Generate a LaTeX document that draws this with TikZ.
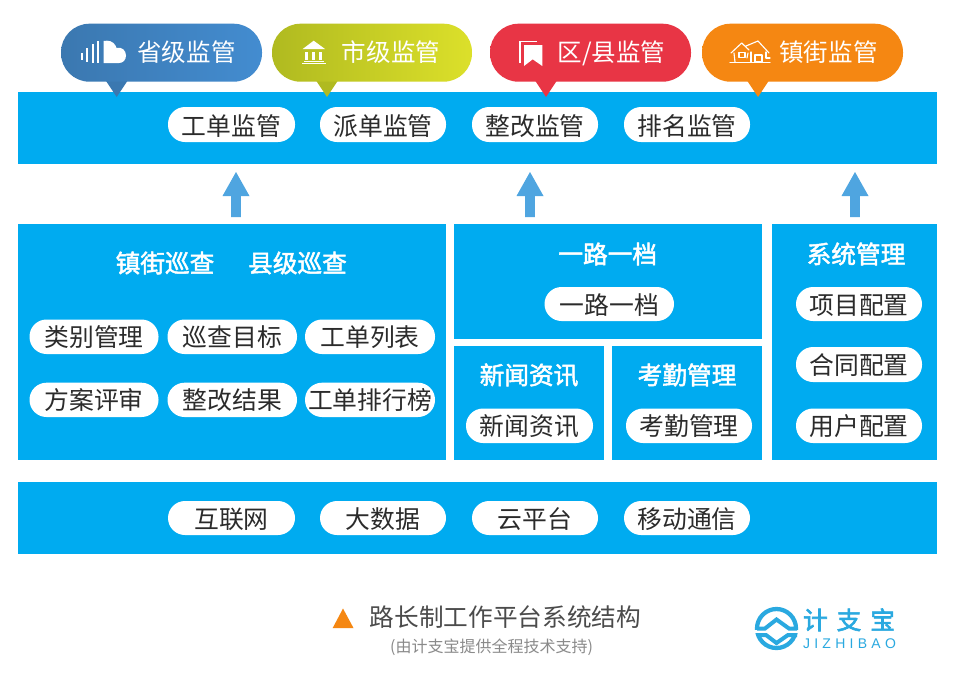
\documentclass[tikz,border=0pt]{standalone}
\usepackage{fontspec}
\setmainfont{Noto Sans CJK SC}
\newfontfamily\boldcjk[FakeBold=2]{Noto Sans CJK SC}
\newfontfamily\logocjk[FakeBold=2.5]{Noto Sans CJK SC}
\newfontfamily\logolat{Liberation Sans}
\usetikzlibrary{calc}
\definecolor{band}{HTML}{00ABF0}
\definecolor{arrowblue}{HTML}{4FA5E0}
\definecolor{ink}{HTML}{2B2B2B}
\definecolor{logoblue}{HTML}{2AA9E0}
\definecolor{capgray}{HTML}{8A8A8A}
\definecolor{bluea}{HTML}{3B78B0}
\definecolor{blueb}{HTML}{438CD0}
\definecolor{greena}{HTML}{B0BA20}
\definecolor{greenb}{HTML}{DCE02A}
\definecolor{redc}{HTML}{E83545}
\definecolor{orangec}{HTML}{F58712}
\newcommand{\fs}[1]{\fontsize{#1}{#1}\selectfont}
\newcommand{\pilltext}{15.2pt}
\newcommand{\panel}[5]{\node[panelbox,minimum width=#4*0.75pt-#2*0.75pt,minimum height=#5*0.75pt-#3*0.75pt] (#1) at ({(#2+#4)/2},{(#3+#5)/2}) {};}
\newcommand{\wpill}[6]{\node[whitepill,minimum width=#4*0.75pt-#2*0.75pt,minimum height=#5*0.75pt-#3*0.75pt] (#1) at ({(#2+#4)/2},{(#3+#5)/2}) {#6};}
\newcommand{\blockarrow}[1]{\fill[arrowblue] (#1,172) -- (#1+13.5,196) -- (#1+4.8,196) -- (#1+4.8,217) -- (#1-4.8,217) -- (#1-4.8,196) -- (#1-13.5,196) -- cycle;}
% name, x1, x2, apex x, left color, right color
\newcommand{\bubble}[6]{
  \fill[#5] (#4-11.3,80) -- (#4,97) -- (#4+11.3,80) -- cycle;
  \node[bubblepill,minimum width=#3*0.75pt-#2*0.75pt,left color=#5,right color=#6] (#1) at ({(#2+#3)/2},52.7) {};
}
\tikzset{
  x=0.75pt,y=-0.75pt,
  panelbox/.style={fill=band,draw=none,rectangle,inner sep=0pt},
  whitepill/.style={fill=white,draw=none,rounded corners=17*0.75pt,inner sep=0pt,font=\fs{18.6pt},text=ink,text height=\pilltext,text depth=0pt},
  bubblepill/.style={draw=none,rounded corners=28.5*0.75pt,minimum height=58*0.75pt,inner sep=0pt},
  bubbletext/.style={text=white,font=\fs{18.4pt},inner sep=0pt,text height=14pt,text depth=0pt},
  titletext/.style={text=white,font=\boldcjk\fs{18.5pt},inner sep=0pt,text height=14pt,text depth=0pt},
}
\begin{document}
\begin{tikzpicture}
\useasboundingbox (0,0) rectangle (953,672);
\fill[white] (0,0) rectangle (953,672);
% bands
\panel{top}{18}{92}{937}{164}
\panel{bottom}{18}{482}{937}{554}
\panel{left}{18}{224}{446}{460}
\panel{road}{454}{224}{762}{339}
\panel{news}{454}{346}{604}{460}
\panel{attend}{612}{346}{762}{460}
\panel{sys}{772}{224}{937}{460}
% bubbles
\bubble{b1}{61}{262}{116.7}{bluea}{blueb}
\bubble{b2}{272}{472}{327}{greena}{greenb}
\bubble{b3}{490}{691}{546}{redc}{redc}
\bubble{b4}{702}{903}{758}{orangec}{orangec}
\node[bubbletext] (t1) at (186.5,52.5) {省级监管};
\node[bubbletext] (t2) at (391,52.5) {市级监管};
\node[bubbletext] (t3) at (611.5,52.5) {区/县监管};
\node[bubbletext] (t4) at (828.5,52.5) {镇街监管};
% icon 1: sound cloud
\fill[white] (81.2,53.3) rectangle (82.8,60);
\fill[white] (86.2,48.3) rectangle (87.8,62.3);
\fill[white] (91.9,44.3) rectangle (93.5,62.7);
\fill[white] (97.2,40.7) rectangle (98.8,63);
\fill[white] (103.5,63) -- (103.5,41) -- (107,40.7) .. controls (112,40.7) and (115.5,44) .. (116.5,48) .. controls (122,46.5) and (126,50.5) .. (126,55.5) .. controls (126,60) and (123,63) .. (119,63) -- cycle;
% icon 2: bank
\fill[white] (313.7,40.7) -- (325,49) -- (302.7,49) -- cycle;
\foreach \xx in {306.7,313.5,320.3}{\fill[white] (\xx-1.3,51.5) rectangle (\xx+1.3,59.8);}
\fill[white] (304,60.6) rectangle (323.5,62);
\fill[white] (301.7,62.8) rectangle (326,64.4);
% icon 3: bookmark
\fill[white] (524,45) -- (542.3,45) -- (542.3,66) -- (532.7,59.3) -- (524,66) -- cycle;
\draw[white,line width=1.2pt] (520,63) -- (520,41.3) -- (537,41.3);
% icon 4: houses
\begin{scope}[white,line width=.85pt,line cap=round,line join=round]
\draw (730,62.5) -- (770,62.5);
\draw (731,53) -- (741.7,43) -- (749,50) (746,46) -- (758,41) -- (769,53);
\draw (734,53) -- (735,62) (748,53) -- (747,58);
\draw (739,52.5) rectangle (745,57.5);
\draw (751,52) -- (751,62) (766,52) -- (766,58) -- (770,58) (755,55) rectangle (762,62);
\end{scope}
% top pills
\renewcommand{\pilltext}{17.2pt}
\wpill{p1}{168}{107}{295}{142}{工单监管}
\wpill{p2}{320}{107}{446}{142}{派单监管}
\wpill{p3}{472}{107}{598}{142}{整改监管}
\wpill{p4}{624}{107}{750}{142}{排名监管}
\renewcommand{\pilltext}{15.2pt}
% arrows
\blockarrow{236}
\blockarrow{530}
\blockarrow{855}
% titles
\node[titletext] (h1) at (165,263) {镇街巡查};
\node[titletext] (h2) at (297.5,263) {县级巡查};
\node[titletext] (h3) at (607.7,254) {一路一档};
\node[titletext] (h4) at (529,375) {新闻资讯};
\node[titletext] (h5) at (687,375) {考勤管理};
\node[titletext] (h6) at (856,254) {系统管理};
% left pills
\wpill{q1}{29.5}{319.5}{158.5}{354}{类别管理}
\wpill{q2}{167.5}{319.5}{297}{354}{巡查目标}
\wpill{q3}{305}{319.5}{435}{354}{工单列表}
\wpill{q4}{29.5}{382.7}{158.5}{417}{方案评审}
\wpill{q5}{167.5}{382.7}{297}{417}{整改结果}
\wpill{q6}{305}{382.7}{435}{417}{工单排行榜}
% other pills
\wpill{r1}{544.5}{287}{674}{321}{一路一档}
\wpill{r2}{466}{408.5}{593}{443}{新闻资讯}
\wpill{r3}{626}{408.5}{752}{443}{考勤管理}
\wpill{s1}{796}{287}{922}{321}{项目配置}
\wpill{s2}{796}{347}{922}{382}{合同配置}
\wpill{s3}{796}{408.5}{922}{443}{用户配置}
% bottom pills
\wpill{u1}{168}{501}{295}{535}{互联网}
\wpill{u2}{320}{501}{446}{535}{大数据}
\wpill{u3}{472}{501}{598}{535}{云平台}
\wpill{u4}{624}{501}{750}{535}{移动通信}
% caption
\fill[orangec] (343,608.5) -- (353.5,628) -- (332.7,628) -- cycle;
\node[text=ink!85!white,font=\fs{18.5pt},inner sep=0pt,text height=14pt,text depth=0pt] (cap) at (505.5,617) {路长制工作平台系统结构};
\node[text=capgray,font=\fs{12pt},inner sep=0pt,text height=9.1pt,text depth=0pt] (sub) at (491.5,646) {(由计支宝提供全程技术支持)};
% logo
\begin{scope}[logoblue,line join=miter]
\draw[line width=3.2pt] (776.5,628.5) circle[radius=19.5];
\fill[white] (754,630.3) rectangle (800,632.8);
\draw[line width=3pt] (757,628.5) -- (765,628.5) -- (776.5,619.5) -- (789,628.5) -- (797,628.5);
\draw[line width=3pt] (757,635) -- (766,635) -- (776.5,643) -- (788,635) -- (797,635);
\end{scope}
\node[text=logoblue,font=\logocjk\fs{18.5pt},inner sep=0pt,text height=14pt,text depth=0pt] (logo) at (849,620) {计\hspace{6.7pt}支\hspace{6.7pt}宝};
\node[text=logoblue,font=\logolat\fs{10.5pt},inner sep=0pt] (logob) at (849.5,644) {J\hspace{3.2pt}I\hspace{3.2pt}Z\hspace{3.2pt}H\hspace{3.2pt}I\hspace{3.2pt}B\hspace{3.2pt}A\hspace{3.2pt}O};
\end{tikzpicture}
\end{document}
